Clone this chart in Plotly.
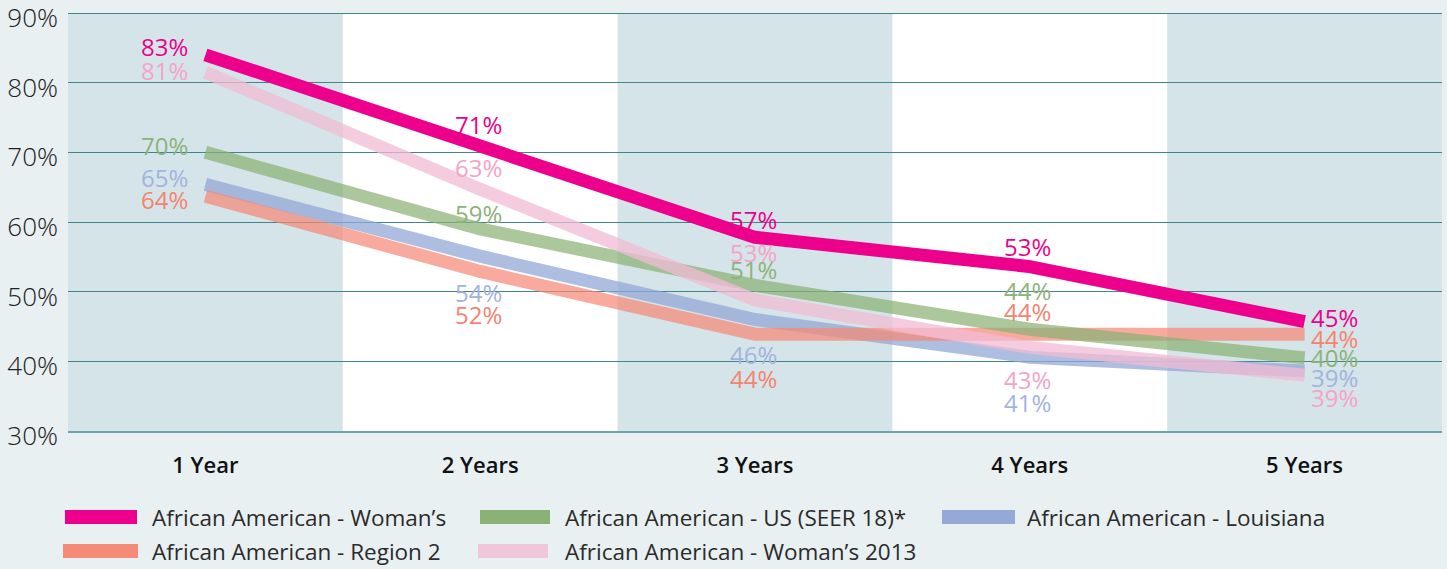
import plotly.graph_objects as go

# ---- data ----
categories = ["1 Year", "2 Years", "3 Years", "4 Years", "5 Years"]

series_names = [
    "African American - Woman’s",
    "African American - US (SEER 18)*",
    "African American - Louisiana",
    "African American - Region 2",
    "African American - Woman’s 2013",
]

womans_vals = [84.0, 70.8, 57.8, 53.6, 45.7]
seer_vals = [70.0, 59.0, 50.9, 44.6, 40.5]
louisiana_vals = [65.4, 55.1, 46.0, 40.6, 38.6]
region2_vals = [63.7, 52.9, 43.9, 43.9, 43.9]
womans2013_vals = [81.5, 64.7, 48.8, 42.0, 38.0]

womans_labels = ["83%", "71%", "57%", "53%", "45%"]
seer_labels = ["70%", "59%", "51%", "44%", "40%"]
louisiana_labels = ["65%", "54%", "46%", "41%", "39%"]
region2_labels = ["64%", "52%", "44%", "44%", "44%"]
womans2013_labels = ["81%", "63%", "53%", "43%", "39%"]

y_ticks = [30, 40, 50, 60, 70, 80, 90]
y_tick_text = ["30%", "40%", "50%", "60%", "70%", "80%", "90%"]

# ---- styles ----
W, H = 1447, 569
ML, MR, MT, MB = 68, 5, 13, 138
PW, PH = W - ML - MR, H - MT - MB
BG = "#e8f0f2"

series = [
    # name idx, values, labels, line color, opacity, text color, label y-offsets (px, up positive)
    dict(i=2, v=louisiana_vals, t=louisiana_labels, c="#94a9d6", op=0.75, tc="#a3b3df",
         dy=[7, -36, -35, -45, -6]),
    dict(i=3, v=region2_vals, t=region2_labels, c="#f58a78", op=0.72, tc="#f4846f",
         dy=[-3, -43, -44, 23, -4]),
    dict(i=1, v=seer_vals, t=seer_labels, c="#8bb276", op=0.72, tc="#8db27a",
         dy=[7, 15, 16, 39, 0]),
    dict(i=4, v=womans2013_vals, t=womans2013_labels, c="#f2bcd5", op=0.75, tc="#f5a3c7",
         dy=[2, 22, 48, -32, -22]),
    dict(i=0, v=womans_vals, t=womans_labels, c="#ec008c", op=1.0, tc="#ec008c",
         dy=[8, 22, 18, 20, 4]),
]

legend_colors = ["#ec008c", "#8bb276", "#94a9d6", "#f58a78", "#f2c6da"]
# legend layout in pixels: (swatch x0, swatch x1, text x, center y)
legend_pos = [
    (65, 137, 150, 517),
    (480, 550, 563, 517),
    (942, 1015, 1025, 517),
    (63, 138, 150, 551),
    (478, 548, 563, 551),
]

FONT = "Open Sans"

fig = go.Figure()

for s in series:
    fig.add_trace(go.Scatter(
        x=categories, y=s["v"], mode="lines", name=series_names[s["i"]],
        line=dict(color=s["c"], width=13), opacity=s["op"],
        showlegend=False, hoverinfo="skip",
    ))

annotations = []
for s in series:
    for k, (cat, val, lab, dy) in enumerate(zip(categories, s["v"], s["t"], s["dy"])):
        if k == 0:
            xa, xs = "right", -15
        elif k == len(categories) - 1:
            xa, xs = "left", 4
        else:
            xa, xs = "center", -2
        annotations.append(dict(
            x=cat, y=val, xref="x", yref="y", text=lab, showarrow=False,
            xanchor=xa, yanchor="middle", xshift=xs, yshift=dy,
            font=dict(family=FONT, size=24, color=s["tc"]),
        ))

shapes = []
# alternating shaded column bands
for j in range(0, len(categories), 2):
    shapes.append(dict(type="rect", xref="x", yref="paper", x0=j - 0.5, x1=j + 0.5,
                       y0=0, y1=1, fillcolor="#d5e4e8", line=dict(width=0), layer="below"))
# top grid line (plotly omits grid lines on the plot edge)
shapes.append(dict(type="line", xref="paper", yref="y", x0=0, x1=1, y0=90, y1=90,
                   line=dict(color="#3f858c", width=2), layer="below"))

def px2paper_x(px):
    return (px - ML) / PW

def px2paper_y(py):
    return (H - MB - py) / PH

for name, col, (sx0, sx1, tx, cy) in zip(series_names, legend_colors, legend_pos):
    shapes.append(dict(type="rect", xref="paper", yref="paper",
                       x0=px2paper_x(sx0), x1=px2paper_x(sx1),
                       y0=px2paper_y(cy + 7), y1=px2paper_y(cy - 7),
                       fillcolor=col, line=dict(width=0)))
    annotations.append(dict(x=px2paper_x(tx), y=px2paper_y(cy), xref="paper", yref="paper",
                            text=name, showarrow=False, xanchor="left", yanchor="middle",
                            font=dict(family=FONT, size=22.5, color="#2b2b2b")))

fig.update_layout(
    width=W, height=H,
    margin=dict(l=ML, r=MR, t=MT, b=MB, pad=0, autoexpand=False),
    paper_bgcolor=BG,
    plot_bgcolor="#ffffff",
    shapes=shapes,
    annotations=annotations,
    showlegend=False,
    xaxis=dict(
        type="category", range=[-0.5, 4.5], showgrid=False, zeroline=False,
        showline=True, linecolor="#6fa4ac", linewidth=2, automargin=False,
        tickfont=dict(family=FONT, size=22, color="#111111", weight=600),
        ticks="", ticklabelstandoff=14, fixedrange=True,
    ),
    yaxis=dict(
        range=[30, 90], tickvals=y_ticks, ticktext=y_tick_text, automargin=False,
        showgrid=True, gridcolor="#3f858c", gridwidth=1.3, zeroline=False,
        showline=False, ticks="", ticklabelstandoff=9, ticklabeloverflow="allow",
        ticklabelshift=5,
        tickfont=dict(family=FONT, size=26, color="#222222", weight=300),
        fixedrange=True,
    ),
)

fig.write_html(
    "out.html",
    config={"displayModeBar": False},
    post_script="document.body.style.margin='0';document.body.style.background='" + BG + "';",
)
